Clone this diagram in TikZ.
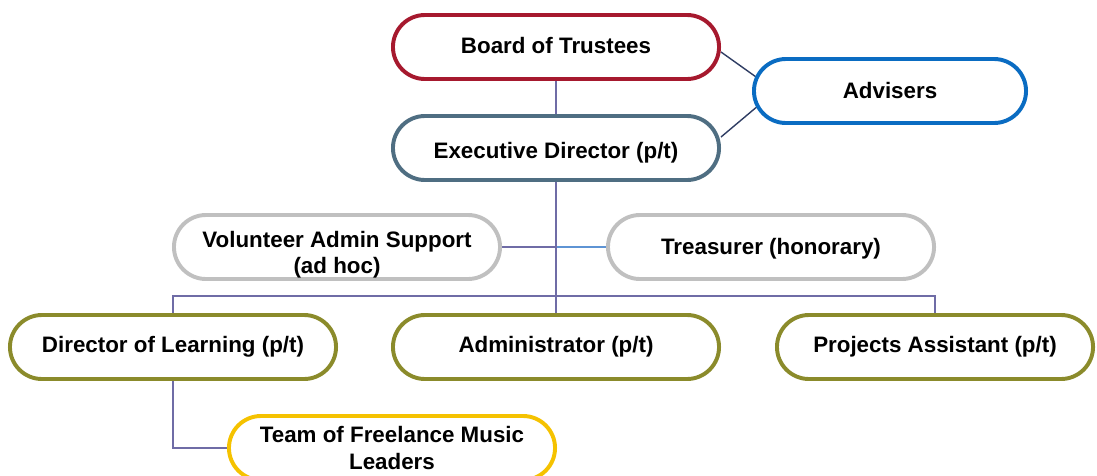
\documentclass[tikz,border=0pt]{standalone}
\usepackage{fontspec}
\setmainfont{Liberation Sans}
\usetikzlibrary{backgrounds}
\definecolor{trusteered}{RGB}{166,25,46}
\definecolor{execslate}{RGB}{79,110,130}
\definecolor{adviserblue}{RGB}{10,108,194}
\definecolor{supportgrey}{RGB}{192,192,192}
\definecolor{staffolive}{RGB}{139,139,43}
\definecolor{freelanceyellow}{RGB}{245,194,0}
\definecolor{linkpurple}{RGB}{111,108,166}
\definecolor{linkblue}{RGB}{94,148,212}
\definecolor{linknavy}{RGB}{47,61,99}
\newcommand{\postfont}{\fontsize{15.9}{18.5}\selectfont\bfseries}
% lower the ink of a node text without changing its box
\newcommand{\dropby}[2]{\raisebox{-#1}[\height][\depth]{#2}}
\tikzset{%
  post/.style      = {shape=rectangle, rounded corners=0.8cm,%
                      draw, fill=white, align=center,%
                      line width=2.8pt, inner sep=2pt,%
                      minimum width=8.15cm, minimum height=1.6cm,%
                      font=\postfont},%
  trustees/.style  = {post, draw=trusteered},%
  director/.style  = {post, draw=execslate},%
  adviser/.style   = {post, draw=adviserblue, minimum width=6.8cm},%
  support/.style   = {post, draw=supportgrey},%
  staff/.style     = {post, draw=staffolive},%
  freelance/.style = {post, draw=freelanceyellow},%
  link/.style      = {draw=linkpurple, line width=1pt}%
}
\begin{document}
\begin{tikzpicture}[x=0.025cm,y=-0.025cm]
	\useasboundingbox (0,0) rectangle (1097,475);
	\clip (0,0) rectangle (1097,475);
	% governance
		\node [trustees] (board) at (556,47) {\dropby{-1pt}{Board of Trustees}};
		\node [adviser] (advisers) at (890,91) {Advisers};
		\node [director] (exec) at (556,148) {\dropby{3pt}{Executive Director (p/t)}};
	% support
		\node [support] (volunteer) at (337,247) {\dropby{6pt}{\begin{tabular}{@{}c@{}}Volunteer Admin Support\\(ad hoc)\end{tabular}}};
		\node [support] (treasurer) at (771,247) {\dropby{1.5pt}{Treasurer (honorary)}};
	% staff
		\node [staff] (learning) at (173,347) {Director of Learning (p/t)};
		\node [staff] (admin) at (556,347) {Administrator (p/t)};
		\node [staff, minimum width=7.9cm] (projects) at (935,347) {Projects Assistant (p/t)};
		\node [freelance] (team) at (392,448) {Team of Freelance Music\\Leaders};
		\coordinate (fork) at (556,296);
	\begin{pgfonlayer}{background}
		\draw [link] (volunteer) -- (volunteer -| exec);
		\draw [link, draw=linkblue] (treasurer) -- (treasurer -| exec);
		\draw [link] (board) -- (exec);
		\draw [link] (exec) -- (admin);
		\draw [link] (learning) |- (fork) -| (projects);
		\draw [link] (learning) |- (team);
		\draw [link, draw=linknavy] ([yshift=-0.125cm]board.east) -- ([xshift=0.2cm,yshift=0.28cm]advisers.west);
		\draw [link, draw=linknavy] ([yshift=0.275cm]exec.east) -- ([xshift=0.2cm,yshift=-0.33cm]advisers.west);
	\end{pgfonlayer}
\end{tikzpicture}
\end{document}
